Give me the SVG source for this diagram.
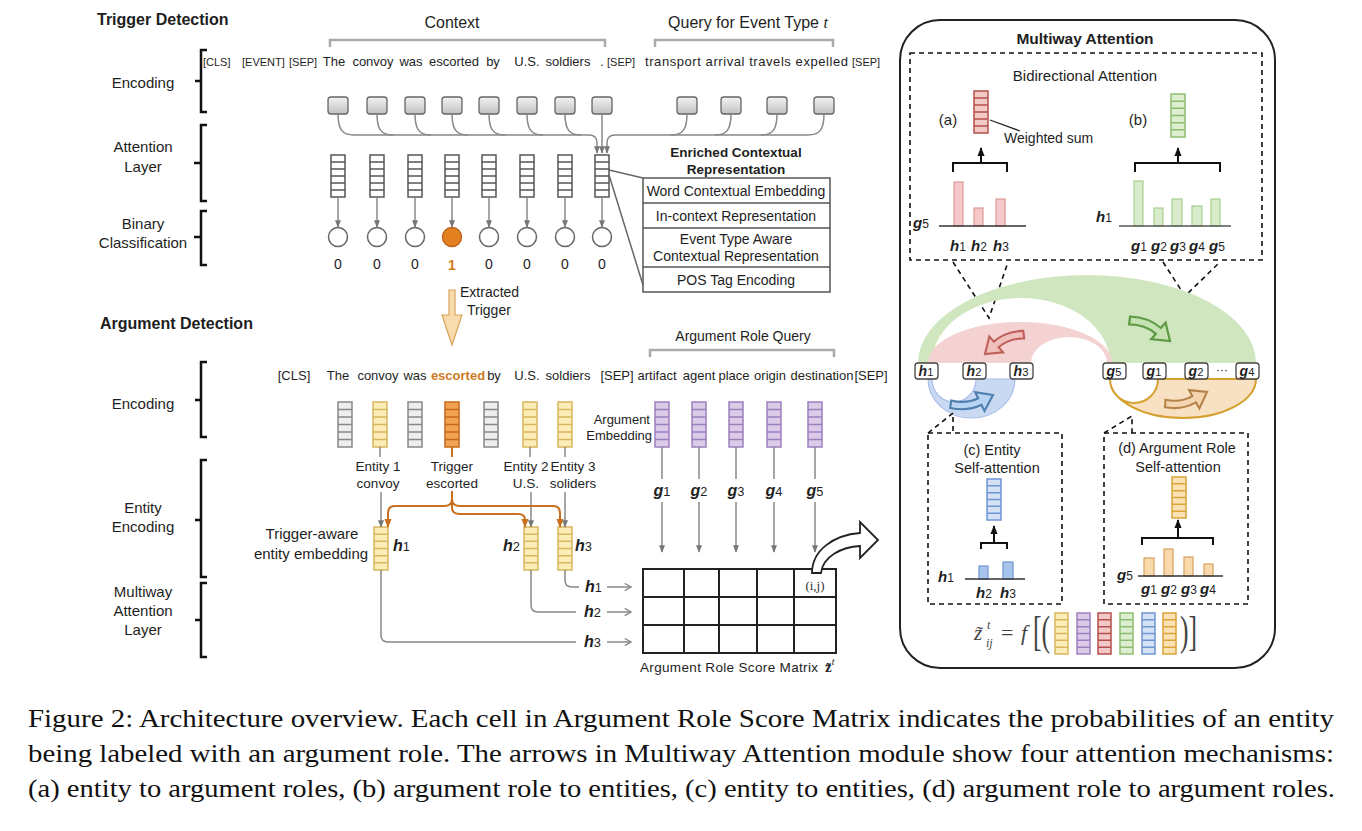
<svg xmlns="http://www.w3.org/2000/svg" width="1362" height="831" viewBox="0 0 1362 831">
<defs>
<style>
text{font-family:"Liberation Sans",Arial,sans-serif;fill:#1e1e1e}
.mid{text-anchor:middle}
.end{text-anchor:end}
.b{font-weight:bold}
.m{font-family:"Liberation Serif","Times New Roman",serif;font-style:italic;font-weight:bold}
.n{font-style:normal;font-weight:normal;font-size:0.8em}
.brk{fill:none;stroke:#111;stroke-width:2.5}
.gbrk{fill:none;stroke:#aaa;stroke-width:2.5}
.gl{fill:none;stroke:#888;stroke-width:1.5}
.ol{fill:none;stroke:#c8701e;stroke-width:2}
.kl{fill:none;stroke:#111;stroke-width:2}
.dash{fill:none;stroke:#111;stroke-width:1.6;stroke-dasharray:5 4}
.vw{fill:#fff;stroke:#555;stroke-width:1.5}
.vg{fill:#eee;stroke:#888;stroke-width:1.5}
.vy{fill:#fbecb8;stroke:#d9b75c;stroke-width:1.5}
.vo{fill:#f2a253;stroke:#c66a18;stroke-width:1.5}
.vp{fill:#dccbe8;stroke:#9c80bd;stroke-width:1.5}
.vr{fill:#f3c9c7;stroke:#b64f4c;stroke-width:1.5}
.vgr{fill:#dcedd0;stroke:#8dbd70;stroke-width:1.5}
.vb{fill:#d5e2f6;stroke:#6f95d2;stroke-width:1.5}
.vor{fill:#fbe2b4;stroke:#d9a43a;stroke-width:1.5}
.box{fill:url(#gb);stroke:#666;stroke-width:1.3}
.cir{fill:#fff;stroke:#666;stroke-width:1.5}
.nb{fill:#fff;stroke:#444;stroke-width:1.3}
.cap{font-family:"Liberation Serif","Times New Roman",serif;font-size:26px;fill:#111}
.f{font-family:"Liberation Serif","Times New Roman",serif;fill:#444}
</style>
<linearGradient id="gb" x1="0" y1="0" x2="0" y2="1"><stop offset="0" stop-color="#f2f2f2"/><stop offset="1" stop-color="#c2c2c2"/></linearGradient>
<marker id="ag" viewBox="0 0 10 10" refX="9" refY="5" markerWidth="5" markerHeight="5" orient="auto"><path d="M0,1 L10,5 L0,9 Z" fill="#777"/></marker>
<marker id="ao" viewBox="0 0 10 10" refX="9" refY="5" markerWidth="4.5" markerHeight="4.5" orient="auto"><path d="M0,1 L10,5 L0,9 Z" fill="#c8701e"/></marker>
<marker id="ak" viewBox="0 0 10 10" refX="9" refY="5" markerWidth="4.5" markerHeight="4.5" orient="auto"><path d="M0,1 L10,5 L0,9 Z" fill="#111"/></marker>
<marker id="av" viewBox="0 0 10 10" refX="9" refY="5" markerWidth="6" markerHeight="6" orient="auto"><path d="M2,1 L9,5 L2,9" fill="none" stroke="#888" stroke-width="1.4"/></marker>
<symbol id="vec" viewBox="0 0 14 48" preserveAspectRatio="none" overflow="visible"><rect x="0" y="0" width="14" height="48" vector-effect="non-scaling-stroke"/><path d="M0 8H14M0 16H14M0 24H14M0 32H14M0 40H14" fill="none" vector-effect="non-scaling-stroke"/></symbol>
<path id="ca" d="M-42,7 Q-29,-3.5 -14,-3.5 L-14,-10 L0,0 L-14,10 L-14,3.5 Q-27,3.5 -38,13 Z"/>
</defs>
<rect width="1362" height="831" fill="#fff"/>

<!-- left side labels -->
<g id="side-labels">
<text x="97" y="25" class="b" font-size="16">Trigger Detection</text>
<text x="100" y="329" class="b" font-size="16">Argument Detection</text>
<text x="143" y="88" class="mid" font-size="15">Encoding</text>
<path class="brk" d="M207,50 H201 V112 H207 M201,81 H195"/>
<text x="143" y="152" class="mid" font-size="15">Attention</text>
<text x="143" y="172" class="mid" font-size="15">Layer</text>
<path class="brk" d="M207,125 H201 V201 H207 M201,163 H194"/>
<text x="143" y="229" class="mid" font-size="15">Binary</text>
<text x="143" y="248" class="mid" font-size="15">Classification</text>
<path class="brk" d="M207,211 H201 V265 H207 M201,237 H194"/>
<text x="143" y="409" class="mid" font-size="15">Encoding</text>
<path class="brk" d="M207,362 H201 V437 H207 M201,400 H195"/>
<text x="143" y="513" class="mid" font-size="15">Entity</text>
<text x="143" y="532" class="mid" font-size="15">Encoding</text>
<path class="brk" d="M207,460 H201 V577 H207 M201,520 H195"/>
<text x="143" y="597" class="mid" font-size="15">Multiway</text>
<text x="143" y="616" class="mid" font-size="15">Attention</text>
<text x="143" y="635" class="mid" font-size="15">Layer</text>
<path class="brk" d="M207,583 H201 V657 H207 M201,620 H195"/>
</g>

<!-- trigger detection encoding -->
<g id="trigger-encoding">
<text x="452" y="28" class="mid" font-size="16">Context</text>
<path class="gbrk" d="M330,47 V40 H605 V47"/>
<text x="748" y="28" class="mid" font-size="16">Query for Event Type <tspan font-family="Liberation Serif,serif" font-style="italic">t</tspan></text>
<path class="gbrk" d="M655,47 V40 H833 V47"/>
<g font-size="11">
<text x="203" y="66">[CLS]</text><text x="242" y="66">[EVENT]</text><text x="289" y="66">[SEP]</text>
<text x="607" y="66">[SEP]</text><text x="852" y="66">[SEP]</text>
</g>
<g font-size="13" class="mid">
<text x="334" y="66">The</text><text x="373" y="66">convoy</text><text x="411" y="66">was</text><text x="454" y="66">escorted</text><text x="493" y="66">by</text><text x="527" y="66">U.S.</text><text x="568" y="66">soldiers</text><text x="602" y="66">.</text>
</g>
<text x="645" y="66" font-size="13" textLength="203" lengthAdjust="spacing">transport arrival travels expelled</text>
<rect class="box" x="328" y="97" width="20" height="17" rx="3"/>
<rect class="box" x="367" y="97" width="20" height="17" rx="3"/>
<rect class="box" x="405" y="97" width="20" height="17" rx="3"/>
<rect class="box" x="442" y="97" width="20" height="17" rx="3"/>
<rect class="box" x="479" y="97" width="20" height="17" rx="3"/>
<rect class="box" x="517" y="97" width="20" height="17" rx="3"/>
<rect class="box" x="555" y="97" width="20" height="17" rx="3"/>
<rect class="box" x="592" y="97" width="20" height="17" rx="3"/>
<rect class="box" x="677" y="97" width="20" height="17" rx="3"/>
<rect class="box" x="721" y="97" width="20" height="17" rx="3"/>
<rect class="box" x="767" y="97" width="20" height="17" rx="3"/>
<rect class="box" x="814" y="97" width="20" height="17" rx="3"/>
</g>

<!-- attention layer + classification -->
<g id="attention-layer">
<use href="#vec" x="331" y="155" width="14" height="42" class="vw"/>
<use href="#vec" x="370" y="155" width="14" height="42" class="vw"/>
<use href="#vec" x="408" y="155" width="14" height="42" class="vw"/>
<use href="#vec" x="445" y="155" width="14" height="42" class="vw"/>
<use href="#vec" x="482" y="155" width="14" height="42" class="vw"/>
<use href="#vec" x="520" y="155" width="14" height="42" class="vw"/>
<use href="#vec" x="558" y="155" width="14" height="42" class="vw"/>
<use href="#vec" x="595" y="155" width="14" height="42" class="vw"/>
</g>
<g id="binary-classification">
<circle class="cir" cx="338" cy="237" r="9.5"/>
<circle class="cir" cx="377" cy="237" r="9.5"/>
<circle class="cir" cx="415" cy="237" r="9.5"/>
<circle cx="452" cy="237" r="9.5" fill="#e3801f" stroke="#c0661a" stroke-width="1.5"/>
<circle class="cir" cx="489" cy="237" r="9.5"/>
<circle class="cir" cx="527" cy="237" r="9.5"/>
<circle class="cir" cx="565" cy="237" r="9.5"/>
<circle class="cir" cx="602" cy="237" r="9.5"/>
<g font-size="14" class="mid">
<text x="338" y="269">0</text><text x="377" y="269">0</text><text x="415" y="269">0</text><text x="452" y="270" class="b" style="fill:#d07a1e">1</text><text x="489" y="269">0</text><text x="527" y="269">0</text><text x="565" y="269">0</text><text x="602" y="269">0</text>
</g>
</g>

<!-- enriched contextual representation -->
<g id="enriched">
<text x="736" y="157" class="mid b" font-size="13.5">Enriched Contextual</text>
<text x="736" y="174" class="mid b" font-size="13.5">Representation</text>
<rect x="643" y="178" width="187" height="114" fill="#fff" stroke="#555" stroke-width="1.5"/>
<path d="M643,203 H830 M643,228 H830 M643,267 H830" stroke="#555" stroke-width="1.5"/>
<g font-size="14" class="mid">
<text x="736" y="196">Word Contextual Embedding</text>
<text x="736" y="221">In-context Representation</text>
<text x="736" y="244">Event Type Aware</text>
<text x="736" y="261">Contextual Representation</text>
<text x="736" y="285">POS Tag Encoding</text>
</g>
</g>

<!-- extracted trigger -->
<g id="extracted-trigger">
<path d="M449,290 H455 V315 H462 L452,345 L442,315 H449 Z" fill="#f8dcae" stroke="#d8a25a" stroke-width="1.2"/>
<text x="460" y="297" font-size="14">Extracted</text>
<text x="467" y="315" font-size="14">Trigger</text>
</g>

<!-- argument detection encoding -->
<g id="argument-encoding">
<text x="743" y="341" class="mid" font-size="14">Argument Role Query</text>
<path class="gbrk" d="M650,357 V350 H834 V357"/>
<g font-size="13" class="mid">
<text x="294" y="380">[CLS]</text><text x="338" y="380">The</text><text x="378" y="380">convoy</text><text x="415" y="380">was</text><text x="458" y="380" class="b" style="fill:#d07a1e">escorted</text><text x="494" y="380">by</text><text x="527" y="380">U.S.</text><text x="568" y="380">soldiers</text><text x="617" y="380">[SEP]</text><text x="657" y="380">artifact</text><text x="699" y="380">agent</text><text x="734" y="380">place</text><text x="770" y="380">origin</text><text x="822" y="380">destination</text><text x="871" y="380">[SEP]</text>
</g>
<use href="#vec" x="338" y="402" width="14" height="45" class="vg"/>
<use href="#vec" x="373" y="402" width="14" height="45" class="vy"/>
<use href="#vec" x="408" y="402" width="14" height="45" class="vg"/>
<use href="#vec" x="445" y="402" width="14" height="45" class="vo"/>
<use href="#vec" x="484" y="402" width="14" height="45" class="vg"/>
<use href="#vec" x="523" y="402" width="14" height="45" class="vy"/>
<use href="#vec" x="558" y="402" width="14" height="45" class="vy"/>
<use href="#vec" x="655" y="402" width="14" height="45" class="vp"/>
<use href="#vec" x="692" y="402" width="14" height="45" class="vp"/>
<use href="#vec" x="729" y="402" width="14" height="45" class="vp"/>
<use href="#vec" x="767" y="402" width="14" height="45" class="vp"/>
<use href="#vec" x="808" y="402" width="14" height="45" class="vp"/>
<text x="650" y="424" class="end" font-size="13">Argument</text>
<text x="652" y="440" class="end" font-size="13">Embedding</text>
<g font-size="13.5" class="mid">
<text x="378" y="471">Entity 1</text><text x="378" y="488">convoy</text>
<text x="452" y="471">Trigger</text><text x="452" y="488">escorted</text>
<text x="526" y="471">Entity 2</text><text x="526" y="488">U.S.</text>
<text x="573" y="471">Entity 3</text><text x="573" y="488">soliders</text>
</g>
<g class="m" font-size="16">
<text x="662" y="496" class="mid">g<tspan class="n">1</tspan></text>
<text x="699" y="496" class="mid">g<tspan class="n">2</tspan></text>
<text x="736" y="496" class="mid">g<tspan class="n">3</tspan></text>
<text x="774" y="496" class="mid">g<tspan class="n">4</tspan></text>
<text x="815" y="496" class="mid">g<tspan class="n">5</tspan></text>
</g>
</g>

<!-- entity encoding -->
<g id="entity-encoding">
<use href="#vec" x="374" y="527" width="14" height="43" class="vy"/>
<use href="#vec" x="524" y="527" width="14" height="43" class="vy"/>
<use href="#vec" x="558" y="527" width="14" height="43" class="vy"/>
<text x="312" y="539" class="mid" font-size="15">Trigger-aware</text>
<text x="311" y="559" class="mid" font-size="15">entity embedding</text>
<g class="m" font-size="16">
<text x="393" y="551">h<tspan class="n">1</tspan></text>
<text x="503" y="551">h<tspan class="n">2</tspan></text>
<text x="575" y="551">h<tspan class="n">3</tspan></text>
</g>
</g>

<!-- score matrix -->
<g id="score-matrix">
<rect x="643" y="569" width="193" height="84" fill="#fff" stroke="#222" stroke-width="2"/>
<path d="M684,569 V653 M719,569 V653 M757,569 V653 M794,569 V653 M643,597 H836 M643,625 H836" stroke="#222" stroke-width="2"/>
<text x="815" y="590" class="mid f" font-size="13" style="fill:#333">(i,j)</text>
<text x="640" y="672" font-size="13.5" textLength="178" lengthAdjust="spacing">Argument Role Score Matrix</text>
<text x="825" y="672" class="f" font-size="15" font-weight="bold" style="fill:#222">z̃<tspan font-size="10" font-style="italic" font-weight="normal" dy="-7">t</tspan></text>
<g class="m" font-size="16">
<text x="585" y="592">h<tspan class="n">1</tspan></text>
<text x="584" y="617">h<tspan class="n">2</tspan></text>
<text x="584" y="647">h<tspan class="n">3</tspan></text>
</g>
<path d="M812,573 C812,550 834,535 860,533 L860,522 L878,540 L860,558 L860,546 C842,547 823,556 821,573 Z" fill="#fff" stroke="#222" stroke-width="1.8"/>
</g>

<!-- connectors -->
<g id="connectors">
<path class="gl" d="M338,114 C338,129 342,135 354,135 M377,114 C377,129 381,135 393,135 M415,114 C415,129 419,135 431,135 M452,114 C452,129 456,135 468,135 M489,114 C489,129 493,135 505,135 M527,114 C527,129 531,135 543,135 M565,114 C565,129 569,135 581,135"/>
<path class="gl" d="M354,135 H589 Q597,135 597,143 V153" marker-end="url(#ag)"/>
<path class="gl" d="M602,114 V153" marker-end="url(#ag)"/>
<path class="gl" d="M687,114 C687,129 683,135 671,135 M731,114 C731,129 727,135 715,135 M777,114 C777,129 773,135 761,135 M824,114 C824,129 820,135 808,135"/>
<path class="gl" d="M808,135 H615 Q607,135 607,143 V153" marker-end="url(#ag)"/>
<g class="gl" marker-end="url(#ag)">
<path d="M338,197 V227"/><path d="M377,197 V227"/><path d="M415,197 V227"/><path d="M452,197 V227"/><path d="M489,197 V227"/><path d="M527,197 V227"/><path d="M565,197 V227"/><path d="M602,197 V227"/>
</g>
<path d="M609,170 L643,178 M609,175 L643,285" stroke="#666" stroke-width="1.5" fill="none"/>
<path class="gl" d="M380,447 V457 M530,447 V457 M565,447 V457"/>
<path class="ol" d="M452,447 V457"/>
<g class="gl" marker-end="url(#ag)">
<path d="M381,492 V527"/><path d="M531,492 V527"/><path d="M565,492 V527"/>
</g>
<g class="ol" marker-end="url(#ao)">
<path d="M452,491 V499 Q452,506 444,506 H395 Q388,506 388,513 V527"/>
<path d="M452,499 Q452,506 460,506 H553 Q560,506 560,513 V527"/>
<path d="M452,499 V508 Q452,514 460,514 H518 Q525,514 525,520 V527"/>
</g>
<path class="gl" d="M662,447 V479 M699,447 V479 M736,447 V479 M774,447 V479 M815,447 V479"/>
<g class="gl" marker-end="url(#ag)">
<path d="M662,502 V552"/><path d="M699,502 V552"/><path d="M736,502 V552"/><path d="M774,502 V552"/><path d="M815,502 V552"/>
</g>
<path class="gl" d="M565,570 V580 Q565,587 572,587 H579 M531,570 V605 Q531,612 538,612 H576 M381,570 V635 Q381,642 388,642 H576"/>
<g class="gl" marker-end="url(#av)">
<path d="M607,587 H631"/><path d="M607,612 H631"/><path d="M607,642 H631"/>
</g>
</g>

<!-- multiway attention panel -->
<g id="multiway-attention">
<rect x="900" y="20" width="375" height="648" rx="40" fill="#fff" stroke="#222" stroke-width="2"/>
<text x="1085" y="44" class="mid b" font-size="15.5">Multiway Attention</text>

<g id="bidirectional">
<rect class="dash" x="910" y="53" width="352" height="207"/>
<text x="1085" y="81" class="mid" font-size="15">Bidirectional Attention</text>
<text x="948" y="125" class="mid" font-size="15">(a)</text>
<use href="#vec" x="974" y="91" width="14" height="42" class="vr"/>
<path d="M990,120 L1020,131" stroke="#222" stroke-width="1.3"/>
<text x="1004" y="143" font-size="14">Weighted sum</text>
<path class="kl" d="M953,172 V163 H1007 V172"/>
<path class="kl" d="M981,163 V148" marker-end="url(#ak)"/>
<g fill="#f5c9c9" stroke="#dc9a9a" stroke-width="1.2">
<rect x="954" y="182" width="9" height="44"/><rect x="974" y="208" width="9" height="18"/><rect x="996" y="199" width="9" height="27"/>
</g>
<path d="M939,226 H1026" stroke="#333" stroke-width="1.3"/>
<g class="m" font-size="15">
<text x="913" y="228">g<tspan class="n">5</tspan></text>
<text x="958" y="251" class="mid">h<tspan class="n">1</tspan></text>
<text x="979" y="251" class="mid">h<tspan class="n">2</tspan></text>
<text x="1001" y="251" class="mid">h<tspan class="n">3</tspan></text>
</g>
<text x="1138" y="125" class="mid" font-size="15">(b)</text>
<use href="#vec" x="1171" y="94" width="14" height="43" class="vgr"/>
<path class="kl" d="M1135,172 V163 H1220 V172"/>
<path class="kl" d="M1178,163 V148" marker-end="url(#ak)"/>
<g fill="#d8eccb" stroke="#a8cf8e" stroke-width="1.2">
<rect x="1134" y="181" width="9" height="45"/><rect x="1154" y="208" width="9" height="18"/><rect x="1172" y="199" width="10" height="27"/><rect x="1192" y="206" width="10" height="20"/><rect x="1211" y="199" width="9" height="27"/>
</g>
<path d="M1119,226 H1231" stroke="#555" stroke-width="1.3"/>
<g class="m" font-size="15">
<text x="1096" y="222">h<tspan class="n">1</tspan></text>
<text x="1139" y="251" class="mid">g<tspan class="n">1</tspan></text>
<text x="1159" y="251" class="mid">g<tspan class="n">2</tspan></text>
<text x="1178" y="251" class="mid">g<tspan class="n">3</tspan></text>
<text x="1197" y="251" class="mid">g<tspan class="n">4</tspan></text>
<text x="1217" y="251" class="mid">g<tspan class="n">5</tspan></text>
</g>
</g>

<path class="dash" d="M953,262 L989,318 L1008,262 M1163,262 L1185,296 L1220,262"/>

<g id="attention-arcs">
<path d="M918,363 A169,88 0 0 1 1256,363 L1110,363 A89,65 0 0 0 932,363 Z" fill="#cfe6bf"/>
<path d="M928,363 A92,41 0 0 1 1112,363 L1107,363 A38,26 0 0 0 1031,363 Z" fill="#f3d2d1"/>
<path d="M928,379 A43.5,39 0 0 0 1015,379 L976,379 A22,23 0 0 1 932,379 Z" fill="#c9d9f2" stroke="#a9c0ea" stroke-width="1.2"/>
<path d="M1110,379 A73,39 0 0 0 1256,379 L1158,379 A24,24 0 0 1 1110,379 Z" fill="#f8e1c2" stroke="#d6a030" stroke-width="2"/>
<use href="#ca" transform="translate(985,354) rotate(139.4) scale(1.05,-1.05)" fill="#f0c0bd" stroke="#c0605a" stroke-width="2"/>
<use href="#ca" transform="translate(1170,341) rotate(41) scale(1.1)" fill="#c6e2b2" stroke="#5e9a44" stroke-width="2"/>
<use href="#ca" transform="translate(993,395) rotate(-26.3) scale(1.05,-1.05)" fill="#b9d3f2" stroke="#4f7fae" stroke-width="2"/>
<use href="#ca" transform="translate(1207,392) rotate(-29.5) scale(1.05,-1.05)" fill="#f5d5b0" stroke="#b58248" stroke-width="2"/>
<g id="nodes-row">
<rect class="nb" x="915" y="363" width="23" height="16" rx="3"/>
<rect class="nb" x="963" y="363" width="23" height="16" rx="3"/>
<rect class="nb" x="1010" y="363" width="23" height="16" rx="3"/>
<rect class="nb" x="1103" y="363" width="23" height="16" rx="3"/>
<rect class="nb" x="1143" y="363" width="23" height="16" rx="3"/>
<rect class="nb" x="1185" y="363" width="23" height="16" rx="3"/>
<rect class="nb" x="1236" y="363" width="23" height="16" rx="3"/>
<g class="m mid" font-size="14">
<text x="926" y="376">h<tspan class="n">1</tspan></text>
<text x="974" y="376">h<tspan class="n">2</tspan></text>
<text x="1021" y="376">h<tspan class="n">3</tspan></text>
<text x="1114" y="376">g<tspan class="n">5</tspan></text>
<text x="1154" y="376">g<tspan class="n">1</tspan></text>
<text x="1196" y="376">g<tspan class="n">2</tspan></text>
<text x="1247" y="376">g<tspan class="n">4</tspan></text>
</g>
<text x="1222" y="374" class="mid" font-size="12">···</text>
</g>
</g>

<path class="dash" d="M928,433 L953,413 L953,433 M1104,433 L1132,416 L1132,433"/>

<g id="entity-self-attention">
<rect class="dash" x="928" y="433" width="134" height="171"/>
<text x="992" y="455" class="mid" font-size="14.5">(c) Entity</text>
<text x="997" y="473" class="mid" font-size="14.5">Self-attention</text>
<use href="#vec" x="987" y="479" width="14" height="41" class="vb"/>
<path class="kl" d="M981,549 V543 H1007 V549"/>
<path class="kl" d="M994,543 V526" marker-end="url(#ak)"/>
<g fill="#a9c4ec" stroke="#6f95d2" stroke-width="1.2">
<rect x="979" y="566" width="9" height="13"/><rect x="1003" y="562" width="10" height="17"/>
</g>
<path d="M965,579 H1025" stroke="#333" stroke-width="1.3"/>
<g class="m" font-size="15">
<text x="938" y="582">h<tspan class="n">1</tspan></text>
<text x="984" y="598" class="mid">h<tspan class="n">2</tspan></text>
<text x="1008" y="598" class="mid">h<tspan class="n">3</tspan></text>
</g>
</g>

<g id="argument-role-self-attention">
<rect class="dash" x="1104" y="433" width="144" height="171"/>
<text x="1177" y="453" class="mid" font-size="14.5">(d) Argument Role</text>
<text x="1178" y="472" class="mid" font-size="14.5">Self-attention</text>
<use href="#vec" x="1172" y="477" width="14" height="41" class="vor"/>
<path class="kl" d="M1142,545 V538 H1213 V545"/>
<path class="kl" d="M1178,538 V520" marker-end="url(#ak)"/>
<g fill="#f8d9ac" stroke="#d6a060" stroke-width="1.2">
<rect x="1144" y="558" width="10" height="18"/><rect x="1164" y="549" width="9" height="27"/><rect x="1184" y="557" width="9" height="19"/><rect x="1204" y="564" width="9" height="12"/>
</g>
<path d="M1138,576 H1223" stroke="#333" stroke-width="1.3"/>
<g class="m" font-size="15">
<text x="1117" y="580">g<tspan class="n">5</tspan></text>
<text x="1149" y="594" class="mid">g<tspan class="n">1</tspan></text>
<text x="1169" y="594" class="mid">g<tspan class="n">2</tspan></text>
<text x="1189" y="594" class="mid">g<tspan class="n">3</tspan></text>
<text x="1208" y="594" class="mid">g<tspan class="n">4</tspan></text>
</g>
</g>

<g id="formula">
<text x="974" y="640" class="f" font-size="21" font-style="italic">z̃</text>
<text x="987" y="629" class="f" font-size="12" font-style="italic">t</text>
<text x="986" y="647" class="f" font-size="12" font-style="italic">ij</text>
<text x="1001" y="640" class="f" font-size="22">=</text>
<text x="1021" y="640" class="f" font-size="22" font-style="italic">f</text>
<text class="f" font-size="32" transform="translate(1033,645) scale(0.8,1.3)">[(</text>
<use href="#vec" x="1055" y="613" width="13" height="41" class="vy"/>
<use href="#vec" x="1077" y="613" width="13" height="41" class="vp"/>
<use href="#vec" x="1098" y="613" width="13" height="41" class="vr"/>
<use href="#vec" x="1120" y="613" width="13" height="41" class="vgr"/>
<use href="#vec" x="1142" y="613" width="13" height="41" class="vb"/>
<use href="#vec" x="1163" y="613" width="13" height="41" class="vor"/>
<text class="f" font-size="32" transform="translate(1180,645) scale(0.8,1.3)">)]</text>
</g>
</g>

<!-- caption -->
<g id="caption">
<text x="28" y="727" class="cap" textLength="1306" lengthAdjust="spacingAndGlyphs">Figure 2: Architecture overview. Each cell in Argument Role Score Matrix indicates the probabilities of an entity</text>
<text x="28" y="762" class="cap" textLength="1306" lengthAdjust="spacingAndGlyphs">being labeled with an argument role. The arrows in Multiway Attention module show four attention mechanisms:</text>
<text x="28" y="797" class="cap" textLength="1307" lengthAdjust="spacingAndGlyphs">(a) entity to argument roles, (b) argument role to entities, (c) entity to entities, (d) argument role to argument roles.</text>
</g>
</svg>
